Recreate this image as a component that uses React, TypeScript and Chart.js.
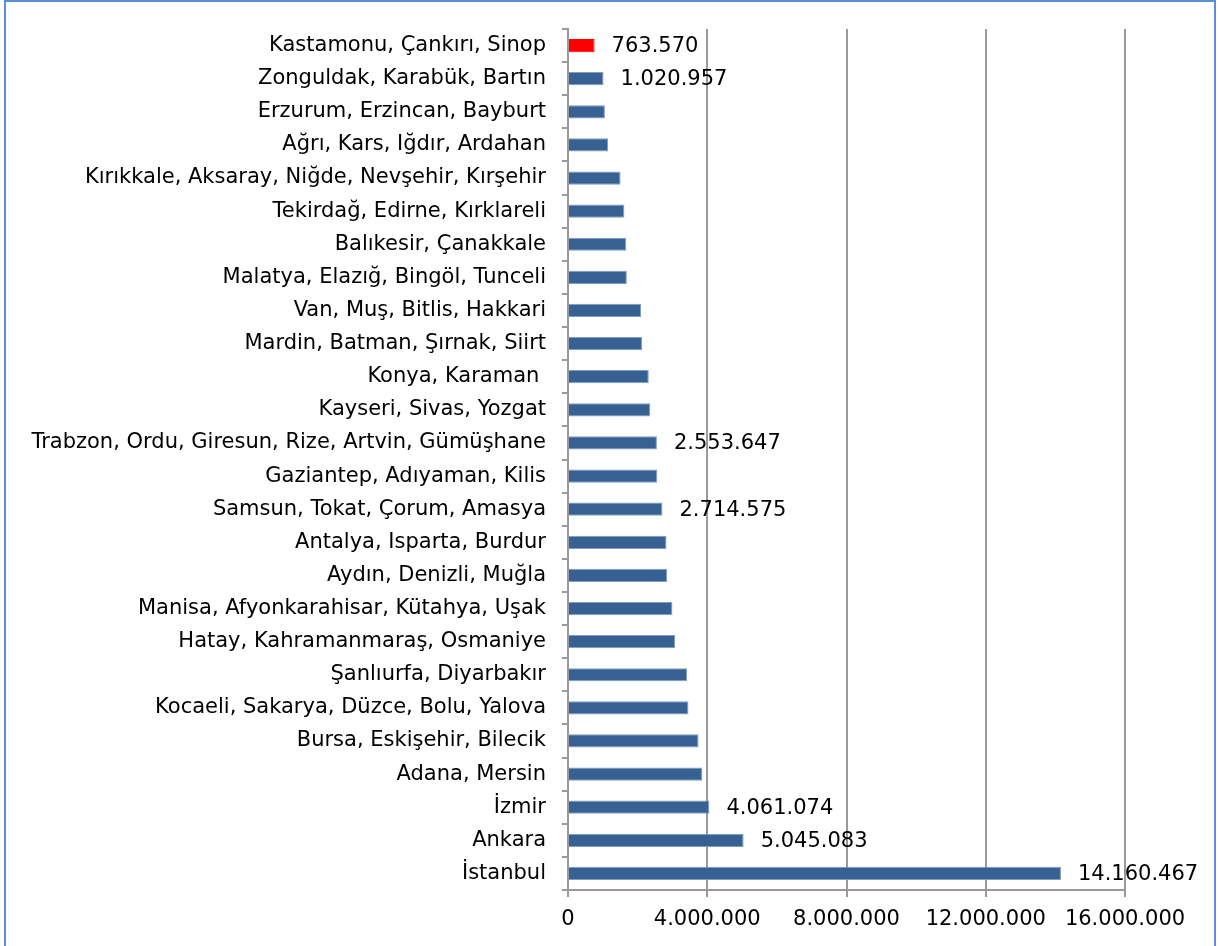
import React, { useEffect, useRef } from "react";
import { Chart, registerables } from "chart.js";

Chart.register(...registerables);

const categories = [
  "Kastamonu, Çankırı, Sinop",
  "Zonguldak, Karabük, Bartın",
  "Erzurum, Erzincan, Bayburt",
  "Ağrı, Kars, Iğdır, Ardahan",
  "Kırıkkale, Aksaray, Niğde, Nevşehir, Kırşehir",
  "Tekirdağ, Edirne, Kırklareli",
  "Balıkesir, Çanakkale",
  "Malatya, Elazığ, Bingöl, Tunceli",
  "Van, Muş, Bitlis, Hakkari",
  "Mardin, Batman, Şırnak, Siirt",
  "Konya, Karaman ",
  "Kayseri, Sivas, Yozgat",
  "Trabzon, Ordu, Giresun, Rize, Artvin, Gümüşhane",
  "Gaziantep, Adıyaman, Kilis",
  "Samsun, Tokat, Çorum, Amasya",
  "Antalya, Isparta, Burdur",
  "Aydın, Denizli, Muğla",
  "Manisa, Afyonkarahisar, Kütahya, Uşak",
  "Hatay, Kahramanmaraş, Osmaniye",
  "Şanlıurfa, Diyarbakır",
  "Kocaeli, Sakarya, Düzce, Bolu, Yalova",
  "Bursa, Eskişehir, Bilecik",
  "Adana, Mersin",
  "İzmir",
  "Ankara",
  "İstanbul",
];

const populations = [
  763570, 1020957, 1060000, 1150000, 1510000, 1620000, 1675000, 1690000,
  2100000, 2125000, 2320000, 2365000, 2553647, 2565000, 2714575, 2830000,
  2850000, 3000000, 3080000, 3420000, 3460000, 3750000, 3860000, 4061074,
  5045083, 14160467,
];

// Which bars carry a value label
const labeledCategories = [
  "Kastamonu, Çankırı, Sinop",
  "Zonguldak, Karabük, Bartın",
  "Trabzon, Ordu, Giresun, Rize, Artvin, Gümüşhane",
  "Samsun, Tokat, Çorum, Amasya",
  "İzmir",
  "Ankara",
  "İstanbul",
];

const highlightedCategory = "Kastamonu, Çankırı, Sinop";

const axisMin = 0;
const axisMax = 16000000;
const axisStep = 4000000;

const fmt = (v: number) =>
  Math.round(v)
    .toString()
    .replace(/\B(?=(\d{3})+(?!\d))/g, ".");

const FONT_FAMILY = "'DejaVu Sans', Verdana, sans-serif";
const FONT_SIZE = 21;

const valueLabelPlugin = {
  id: "valueLabels",
  afterDatasetsDraw(chart: any) {
    const ctx = chart.ctx;
    const meta = chart.getDatasetMeta(0);
    ctx.save();
    ctx.font = `${FONT_SIZE}px ${FONT_FAMILY}`;
    ctx.fillStyle = "#000";
    ctx.textAlign = "left";
    ctx.textBaseline = "middle";
    meta.data.forEach((el: any, i: number) => {
      if (!labeledCategories.includes(categories[i])) return;
      ctx.fillText(fmt(populations[i]), el.x + 17, el.y + 1);
    });
    ctx.restore();
  },
};

export default function App() {
  const canvasRef = useRef<HTMLCanvasElement | null>(null);

  useEffect(() => {
    if (!canvasRef.current) return;
    const chart = new Chart(canvasRef.current, {
      type: "bar",
      data: {
        labels: categories,
        datasets: [
          {
            data: populations,
            backgroundColor: categories.map((c) =>
              c === highlightedCategory ? "#FF0000" : "#386193"
            ),
            borderColor: categories.map((c) =>
              c === highlightedCategory ? "#FF0000" : "#7f9cc2"
            ),
            borderWidth: 1,
            barPercentage: 0.4,
            categoryPercentage: 1,
          },
        ],
      },
      options: {
        indexAxis: "y",
        responsive: false,
        animation: false,
        devicePixelRatio: 1,
        layout: { padding: { top: 29, right: 94, bottom: 0, left: 0 } },
        plugins: {
          legend: { display: false },
          tooltip: { enabled: false },
          title: { display: false },
        },
        scales: {
          x: {
            type: "linear",
            min: axisMin,
            max: axisMax,
            afterFit: (scale: any) => {
              scale.height = 56;
            },
            ticks: {
              stepSize: axisStep,
              color: "#000",
              padding: 10,
              font: { family: FONT_FAMILY, size: FONT_SIZE },
              callback: (v: any) => fmt(Number(v)),
            },
            grid: {
              color: "#9a9a9a",
              lineWidth: 2,
              drawTicks: true,
              tickLength: 7,
            },
            border: { display: true, color: "#9a9a9a", width: 2 },
          },
          y: {
            type: "category",
            afterFit: (scale: any) => {
              scale.width = 568;
            },
            ticks: {
              color: "#000",
              padding: 16,
              autoSkip: false,
              font: { family: FONT_FAMILY, size: FONT_SIZE },
            },
            grid: {
              drawOnChartArea: false,
              drawTicks: true,
              tickLength: 6,
              color: "#9a9a9a",
              lineWidth: 2,
              offset: true,
            },
            border: { display: true, color: "#9a9a9a", width: 2 },
          },
        },
      },
      plugins: [valueLabelPlugin],
    });
    return () => chart.destroy();
  }, []);

  return (
    <>
      <div
        style={{
          position: "fixed",
          left: 0,
          top: 0,
          width: 1219,
          height: 946,
          background: "#fff",
        }}
      >
        <canvas
          ref={canvasRef}
          width={1219}
          height={946}
          style={{ display: "block", width: 1219, height: 946 }}
        />
      </div>
      <div
        style={{
          position: "fixed",
          left: 4,
          top: 0,
          width: 1212,
          height: 970,
          boxSizing: "border-box",
          border: "2px solid #5B8ED8",
          pointerEvents: "none",
        }}
      />
    </>
  );
}
